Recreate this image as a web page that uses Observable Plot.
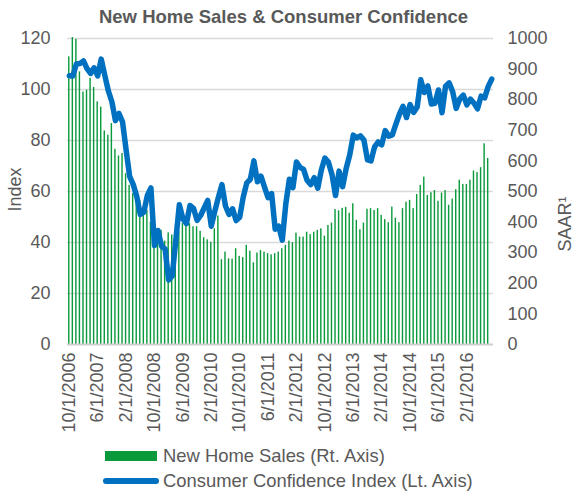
<!DOCTYPE html>
<html>
<head>
<meta charset="utf-8">
<script src="https://cdn.jsdelivr.net/npm/d3@7"></script>
<script src="https://cdn.jsdelivr.net/npm/@observablehq/plot@0.6"></script>
<style>
  html, body { margin: 0; padding: 0; background: white; }
  #wrap { position: relative; width: 578px; height: 493px; font-family: 'Liberation Sans', Arial, sans-serif; color: #595959; overflow: hidden; }
  #title { position: absolute; top: 6px; left: 0; width: 567px; text-align: center; font-weight: bold; font-size: 18.5px; line-height: 22px; }
  .lg-text { position: absolute; left: 163px; font-size: 18.4px; line-height: 20px; white-space: nowrap; }
  #chart { position: absolute; top: 0; left: 0; }
</style>
</head>
<body>
<div id="wrap">
  <div id="chart"></div>
  <div id="title">New Home Sales &amp; Consumer Confidence</div>
  <div style="position:absolute;left:105px;top:451px;width:52px;height:10px;background:#0a9a3c"></div>
  <div class="lg-text" style="top:446px">New Home Sales (Rt. Axis)</div>
  <div style="position:absolute;left:103px;top:478px;width:56px;height:6px;border-radius:3px;background:#0070C0"></div>
  <div class="lg-text" style="top:471px">Consumer Confidence Index (Lt. Axis)</div>
</div>
<script>
// Months: Oct 2006 .. Sep 2016
const firstMonth = new Date(Date.UTC(2006, 9, 1));
const endMonth = new Date(Date.UTC(2016, 9, 1));
const fmt = d => `${d.getUTCMonth() + 1}/1/${d.getUTCFullYear()}`;
const months = d3.utcMonth.range(firstMonth, endMonth).map(fmt);

const tickLabels = ["10/1/2006","6/1/2007","2/1/2008","10/1/2008","6/1/2009","2/1/2010","10/1/2010",
  "6/1/2011","2/1/2012","10/1/2012","6/1/2013","2/1/2014","10/1/2014","6/1/2015","2/1/2016"];
const leftTicks = [0, 20, 40, 60, 80, 100, 120];
const rightTicks = [0, 100, 200, 300, 400, 500, 600, 700, 800, 900, 1000];

// New Home Sales, SAAR (thousands), Oct 2006 .. Aug 2016
const newHomeSales = [
  940, 1003, 997,
  891, 825, 831, 870, 840, 793, 776, 698, 684, 722, 638, 616,
  624, 558, 520, 493, 490, 470, 450, 438, 400, 378, 375, 373,
  338, 365, 358, 355, 370, 395, 400, 395, 385, 385, 370, 349,
  342, 334, 378, 420, 277, 302, 280, 279, 313, 288, 284, 324,
  305, 267, 299, 307, 302, 297, 293, 297, 302, 313, 324, 338,
  333, 364, 351, 351, 367, 359, 367, 373, 378, 354, 389, 397,
  441, 437, 445, 448, 429, 460, 406, 375, 397, 442, 444, 438,
  444, 422, 408, 398, 449, 413, 398, 444, 465, 471, 444, 490,
  520, 547, 487, 496, 503, 468, 495, 503, 455, 475, 506, 537,
  523, 523, 537, 567, 562, 578, 656, 608
];

// Consumer Confidence Index, Oct 2006 .. Sep 2016
const consumerConfidence = [
  105.4, 105.3, 110.0,
  110.2, 111.2, 108.2, 106.3, 108.5, 105.3, 111.9, 105.6, 99.5, 95.2, 87.8, 90.6,
  87.3, 76.4, 65.9, 62.8, 58.1, 51.0, 51.9, 58.5, 61.4, 38.8, 44.7, 38.6,
  37.4, 25.3, 26.9, 40.8, 54.8, 49.3, 47.4, 54.5, 53.4, 48.7, 50.6, 53.6,
  56.5, 46.4, 52.3, 57.7, 62.7, 54.3, 51.0, 53.2, 48.6, 49.9, 57.8, 63.4,
  64.8, 72.0, 63.8, 66.0, 61.7, 57.6, 59.2, 45.2, 46.4, 40.9, 55.2, 64.8,
  61.5, 71.6, 69.5, 68.7, 64.4, 62.7, 65.4, 61.3, 68.4, 73.1, 71.5, 66.7,
  58.4, 68.0, 61.9, 69.0, 74.3, 82.1, 81.0, 81.8, 80.2, 72.4, 72.0, 77.5,
  79.4, 78.3, 83.9, 81.7, 82.2, 86.4, 90.3, 93.4, 89.0, 94.1, 91.0, 93.1,
  103.8, 98.8, 101.4, 94.3, 94.6, 99.8, 90.9, 101.3, 102.6, 99.1, 92.6, 96.3,
  97.8, 94.0, 96.2, 94.7, 92.4, 97.4, 96.7, 101.1, 104.1
];

const ratio = 120 / 1000; // right axis -> left axis
const salesRows = newHomeSales.map((v, i) => ({month: months[i], sales: v}));
const cciRows = consumerConfidence.map((v, i) => ({month: months[i], cci: v}));

const chart = Plot.plot({
  width: 578,
  height: 440,
  marginTop: 38,
  marginBottom: 96,
  marginLeft: 67,
  marginRight: 85,
  style: {fontFamily: "'Liberation Sans', Arial, sans-serif", fontSize: "18px", color: "#595959", background: "transparent", overflow: "visible"},
  x: {type: "band", domain: months, paddingInner: 0.6, paddingOuter: 0.3, align: 0.5},
  y: {domain: [0, 120]},
  marks: [
    Plot.ruleY(leftTicks.filter(d => d > 0), {stroke: "#d9d9d9", strokeWidth: 1.3}),
    Plot.barY(salesRows, {x: "month", y: d => d.sales * ratio, fill: "#0a9a3c"}),
    Plot.ruleY([0], {stroke: "#d0d0d0", strokeWidth: 2}),
    Plot.lineY(cciRows, {x: "month", y: "cci", stroke: "#0070C0", strokeWidth: 5.5, strokeLinejoin: "round", strokeLinecap: "round"}),
    Plot.axisX({ticks: tickLabels, tickRotate: -90, tickSize: 0, tickPadding: 8, label: null}),
    Plot.axisY({ticks: leftTicks, tickSize: 0, tickPadding: 17, label: null}),
    Plot.axisY({anchor: "right", ticks: rightTicks.map(v => v * ratio), tickFormat: d => String(Math.round(d / ratio)),
      tickSize: 0, tickPadding: 14, label: null}),
    Plot.text(["Index"], {frameAnchor: "left", dx: -52, dy: 20, rotate: -90, fill: "#595959", fontSize: 18}),
    Plot.text(["SAAR¹"], {frameAnchor: "right", dx: 72, dy: 5, rotate: -90, fill: "#595959", fontSize: 18})
  ]
});
document.getElementById("chart").appendChild(chart);
</script>
</body>
</html>
